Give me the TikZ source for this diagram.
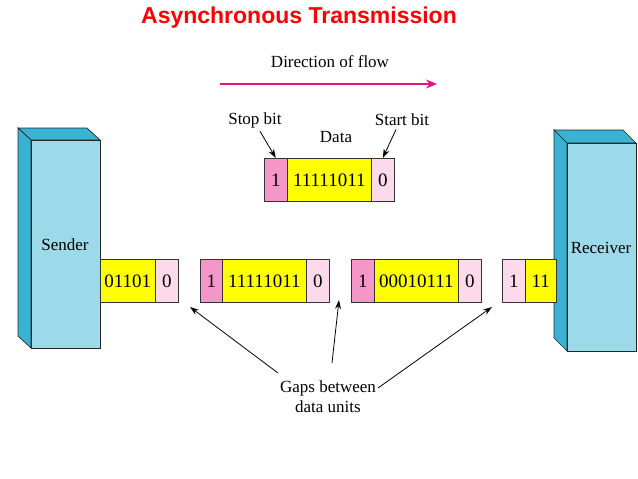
\documentclass[tikz,border=0pt]{standalone}
\usepackage{fontspec}
\setmainfont{Liberation Serif}
\newfontfamily\titlefont{Liberation Sans}
\usetikzlibrary{arrows.meta}
\definecolor{face}{RGB}{156,218,234}
\definecolor{side}{RGB}{58,178,210}
\definecolor{pk}{RGB}{244,150,200}
\definecolor{lpk}{RGB}{252,218,236}
\definecolor{yl}{RGB}{255,255,0}
\definecolor{mag}{RGB}{230,20,130}
\begin{document}
\begin{tikzpicture}[x=1pt,y=-1pt,
  cell/.style={draw=black!80,line width=0.6pt,anchor=north west,minimum height=43pt,inner sep=0pt,font=\fontsize{19}{22}\selectfont},
  bl/.style={draw=black!85,line width=0.7pt},
  lab/.style={font=\fontsize{17}{20}\selectfont},
  arr/.style={-{Stealth[length=9pt,width=6pt]},line width=0.8pt}]
\useasboundingbox (0,0) rectangle (638,479);
\node[font=\titlefont\bfseries\fontsize{23}{26}\selectfont,text=red] (title) at (299,18) {Asynchronous Transmission};
\node[lab] (dir) at (330,62) {Direction of flow};
\coordinate (f1) at (220,84); \coordinate (f2) at (437,84);
\draw[mag,line width=2.2pt,-{Stealth[length=11pt,width=9pt]}] (f1) -- (f2);
% sender
\filldraw[fill=side,bl] (18,128) -- (87,128) -- (100,140) -- (31,140) -- cycle;
\filldraw[fill=side,bl] (18,128) -- (31,140) -- (31,348) -- (18,336) -- cycle;
\node[bl,fill=face,anchor=north west,minimum width=69pt,minimum height=208pt,inner sep=0pt] (snd) at (31,140) {};
\node[lab] (sndt) at (65,245) {Sender};
% receiver
\filldraw[fill=side,bl] (554,130) -- (623,130) -- (636,143) -- (567,143) -- cycle;
\filldraw[fill=side,bl] (554,130) -- (567,143) -- (567,351) -- (554,338) -- cycle;
\node[bl,fill=face,anchor=north west,minimum width=69pt,minimum height=208pt,inner sep=0pt] (rcv) at (567,143) {};
\node[lab] (rcvt) at (601,248) {Receiver};
% top frame
\node[cell,fill=pk,minimum width=23pt] (t1) at (264,158) {1};
\node[cell,fill=yl,minimum width=84pt] (t2) at (287,158) {11111011};
\node[cell,fill=lpk,minimum width=23pt] (t3) at (371,158) {0};
\node[lab] (stop) at (255,120) {Stop bit};
\node[lab] (data) at (336,137) {Data};
\node[lab] (start) at (402,120) {Start bit};
\draw[arr] (stop.south) ++(5,0) coordinate (s0) -- (t1.north);
\draw[arr] (start.south) ++(-6,0) coordinate (s1) -- (t3.north);
% row
\node[cell,fill=yl,minimum width=55pt] (a1) at (100,259) {01101};
\node[cell,fill=lpk,minimum width=23pt] (a2) at (155,259) {0};
\node[cell,fill=pk,minimum width=22pt] (b1) at (200,259) {1};
\node[cell,fill=yl,minimum width=84pt] (b2) at (222,259) {11111011};
\node[cell,fill=lpk,minimum width=23pt] (b3) at (306,259) {0};
\node[cell,fill=pk,minimum width=23pt] (c1) at (351,259) {1};
\node[cell,fill=yl,minimum width=84pt] (c2) at (374,259) {00010111};
\node[cell,fill=lpk,minimum width=23pt] (c3) at (458,259) {0};
\node[cell,fill=lpk,minimum width=23pt] (d1) at (502,259) {1};
\node[cell,fill=yl,minimum width=31pt] (d2) at (525,259) {11};
% gaps
\node[lab,align=center] (gaps) at (328,397) {Gaps between\\data units};
\coordinate (g1) at (190,307); \coordinate (g2) at (339,300); \coordinate (g3) at (492,307);
\draw[arr] (278,373) -- (g1);
\draw[arr] (332,363) -- (g2);
\draw[arr] (378,388) -- (g3);
\end{tikzpicture}
\end{document}
